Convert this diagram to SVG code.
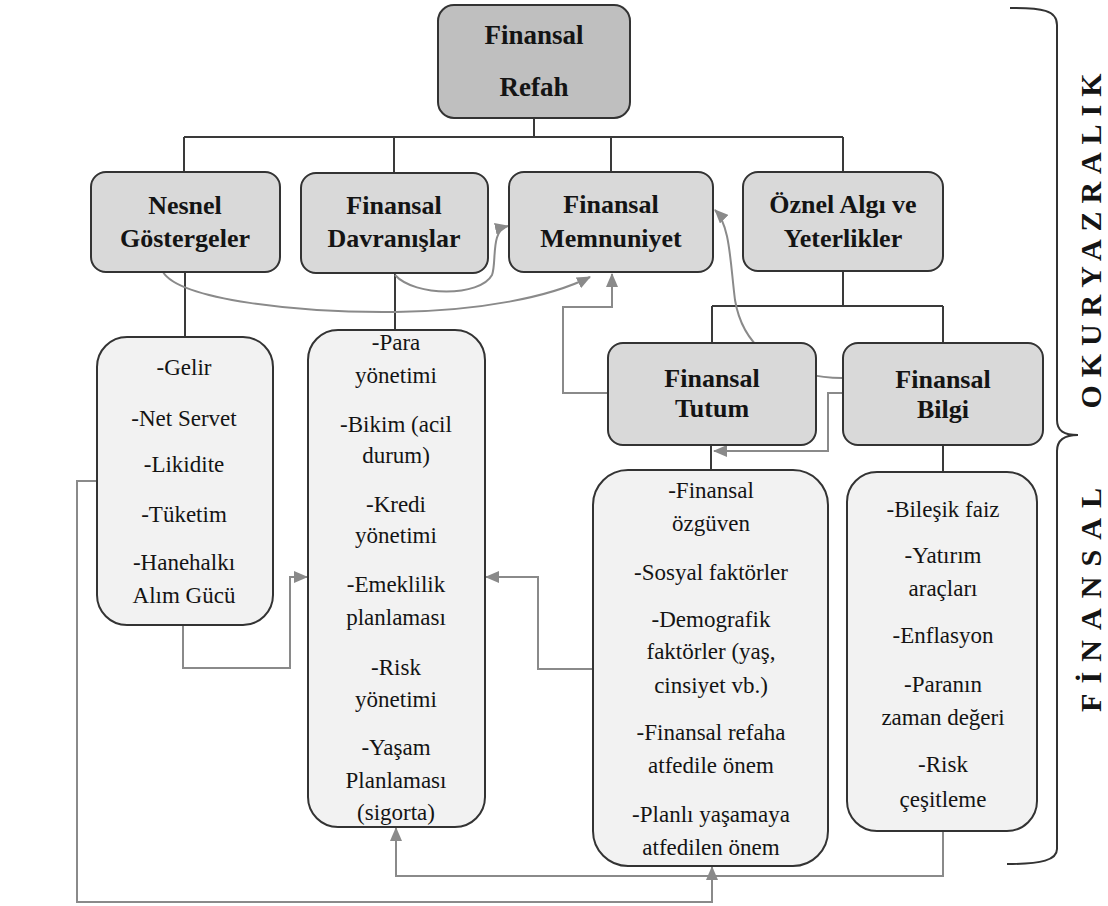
<svg xmlns="http://www.w3.org/2000/svg" width="1108" height="906" viewBox="0 0 1108 906">
<defs>
<style>
.hd{font-family:"Liberation Serif","Times New Roman",serif;font-weight:bold;font-size:26px;fill:#141414;text-anchor:middle}
.it{font-family:"Liberation Serif","Times New Roman",serif;font-size:23px;fill:#141414;text-anchor:middle}
.side{font-family:"Liberation Serif","Times New Roman",serif;font-weight:bold;font-size:30px;fill:#141414;text-anchor:middle}
.b1{fill:#bfbfbf;stroke:#333;stroke-width:2}
.b2{fill:#d9d9d9;stroke:#333;stroke-width:2}
.b3{fill:#f2f2f2;stroke:#333;stroke-width:2}
.tree{fill:none;stroke:#3a3a3a;stroke-width:2}
.g{fill:none;stroke:#8a8a8a;stroke-width:2}
</style>
<marker id="ah" markerUnits="userSpaceOnUse" markerWidth="14" markerHeight="12" refX="13" refY="6" orient="auto">
<path d="M0,0 L14,6 L0,12 z" fill="#8a8a8a"/>
</marker>
</defs>
<rect width="1108" height="906" fill="#fff"/>

<g id="connectors">
<path class="tree" d="M534,118 V137 M184,137 H843 M184,137 V172 M394,137 V173 M611,137 V172 M843,137 V172"/>
<path class="tree" d="M843,271 V306 M712,306 H943 M712,306 V343 M943,306 V343"/>
<path class="tree" d="M185,272 V337 M395,273 V330 M711,445 V470 M943,445 V472"/>
<path class="g" marker-end="url(#ah)" d="M163,272 C180,300 300,313 395,312 C480,311 550,297 590,277"/>
<path class="g" marker-end="url(#ah)" d="M395,275 C415,297 480,297 492,275 C497,262 490,230 508,226"/>
<path class="g" marker-end="url(#ah)" d="M608,393 H563 V307 H612 V274"/>
<path class="g" marker-end="url(#ah)" d="M842,378 C800,378 745,360 735,300 C730,260 730,225 715,210"/>
<path class="g" marker-end="url(#ah)" d="M843,393 H828 V451 H714"/>
<path class="g" marker-end="url(#ah)" d="M183,625 V668 H290 V577 H307"/>
<path class="g" marker-end="url(#ah)" d="M593,669 H538 V577 H486"/>
<path class="g" marker-end="url(#ah)" d="M943,831 V876 H396 V828"/>
<path class="g" marker-end="url(#ah)" d="M97,481 H77 V902 H712 V867"/>
<path fill="none" stroke="#333" stroke-width="2" d="M1010,8 C1042,8 1057,10 1057,25 V420 C1057,431 1064,435 1078,435 C1064,435 1057,440 1057,451 V849 C1057,860 1042,864 1007,864"/>
</g>

<g id="finansal-refah">
<rect class="b1" x="438" y="5" width="192" height="113" rx="16"/>
<text class="hd" style="font-size:27px" x="534" y="44">Finansal</text>
<text class="hd" style="font-size:27px" x="534" y="96">Refah</text>
</g>
<g id="nesnel-gostergeler">
<rect class="b2" x="91" y="172" width="189" height="100" rx="15"/>
<text class="hd" x="185" y="214">Nesnel</text>
<text class="hd" x="185" y="247">Göstergeler</text>
</g>
<g id="finansal-davranislar">
<rect class="b2" x="301" y="173" width="187" height="100" rx="15"/>
<text class="hd" x="394" y="214">Finansal</text>
<text class="hd" x="394" y="247">Davranışlar</text>
</g>
<g id="finansal-memnuniyet">
<rect class="b2" x="509" y="172" width="204" height="100" rx="15"/>
<text class="hd" x="611" y="213">Finansal</text>
<text class="hd" x="611" y="247">Memnuniyet</text>
</g>
<g id="oznel-algi">
<rect class="b2" x="743" y="172" width="200" height="99" rx="15"/>
<text class="hd" x="843" y="213">Öznel Algı ve</text>
<text class="hd" x="843" y="247">Yeterlikler</text>
</g>
<g id="finansal-tutum">
<rect class="b2" x="608" y="343" width="208" height="102" rx="15"/>
<text class="hd" x="712" y="387">Finansal</text>
<text class="hd" x="712" y="417">Tutum</text>
</g>
<g id="finansal-bilgi">
<rect class="b2" x="843" y="343" width="200" height="102" rx="15"/>
<text class="hd" x="943" y="388">Finansal</text>
<text class="hd" x="943" y="418">Bilgi</text>
</g>

<g id="nesnel-liste">
<rect class="b3" x="97" y="337" width="176" height="288" rx="30"/>
<text class="it" x="184" y="375">-Gelir</text>
<text class="it" x="184" y="426">-Net Servet</text>
<text class="it" x="184" y="472">-Likidite</text>
<text class="it" x="184" y="522">-Tüketim</text>
<text class="it" x="184" y="570">-Hanehalkı</text>
<text class="it" x="184" y="603">Alım Gücü</text>
</g>
<g id="davranis-liste">
<rect class="b3" x="308" y="330" width="177" height="497" rx="30"/>
<text class="it" x="396" y="350">-Para</text>
<text class="it" x="396" y="383">yönetimi</text>
<text class="it" x="396" y="432">-Bikim (acil</text>
<text class="it" x="396" y="463">durum)</text>
<text class="it" x="396" y="512">-Kredi</text>
<text class="it" x="396" y="543">yönetimi</text>
<text class="it" x="396" y="592">-Emeklilik</text>
<text class="it" x="396" y="625">planlaması</text>
<text class="it" x="396" y="675">-Risk</text>
<text class="it" x="396" y="707">yönetimi</text>
<text class="it" x="396" y="755">-Yaşam</text>
<text class="it" x="396" y="788">Planlaması</text>
<text class="it" x="396" y="820">(sigorta)</text>
</g>
<g id="tutum-liste">
<rect class="b3" x="593" y="470" width="235" height="396" rx="35"/>
<text class="it" x="711" y="498">-Finansal</text>
<text class="it" x="711" y="531">özgüven</text>
<text class="it" x="711" y="580">-Sosyal faktörler</text>
<text class="it" x="711" y="627">-Demografik</text>
<text class="it" x="711" y="659">faktörler (yaş,</text>
<text class="it" x="711" y="693">cinsiyet vb.)</text>
<text class="it" x="711" y="740">-Finansal refaha</text>
<text class="it" x="711" y="773">atfedile önem</text>
<text class="it" x="711" y="822">-Planlı yaşamaya</text>
<text class="it" x="711" y="855">atfedilen önem</text>
</g>
<g id="bilgi-liste">
<rect class="b3" x="847" y="472" width="190" height="359" rx="30"/>
<text class="it" x="943" y="517">-Bileşik faiz</text>
<text class="it" x="943" y="563">-Yatırım</text>
<text class="it" x="943" y="596">araçları</text>
<text class="it" x="943" y="643">-Enflasyon</text>
<text class="it" x="943" y="692">-Paranın</text>
<text class="it" x="943" y="725">zaman değeri</text>
<text class="it" x="943" y="772">-Risk</text>
<text class="it" x="943" y="807">çeşitleme</text>
</g>

<g id="side-labels">
<text class="side" transform="translate(1101,241) rotate(-90)" textLength="335" lengthAdjust="spacing">OKURYAZRALIK</text>
<text class="side" transform="translate(1101,600) rotate(-90)" textLength="224" lengthAdjust="spacing">FİNANSAL</text>
</g>
</svg>
